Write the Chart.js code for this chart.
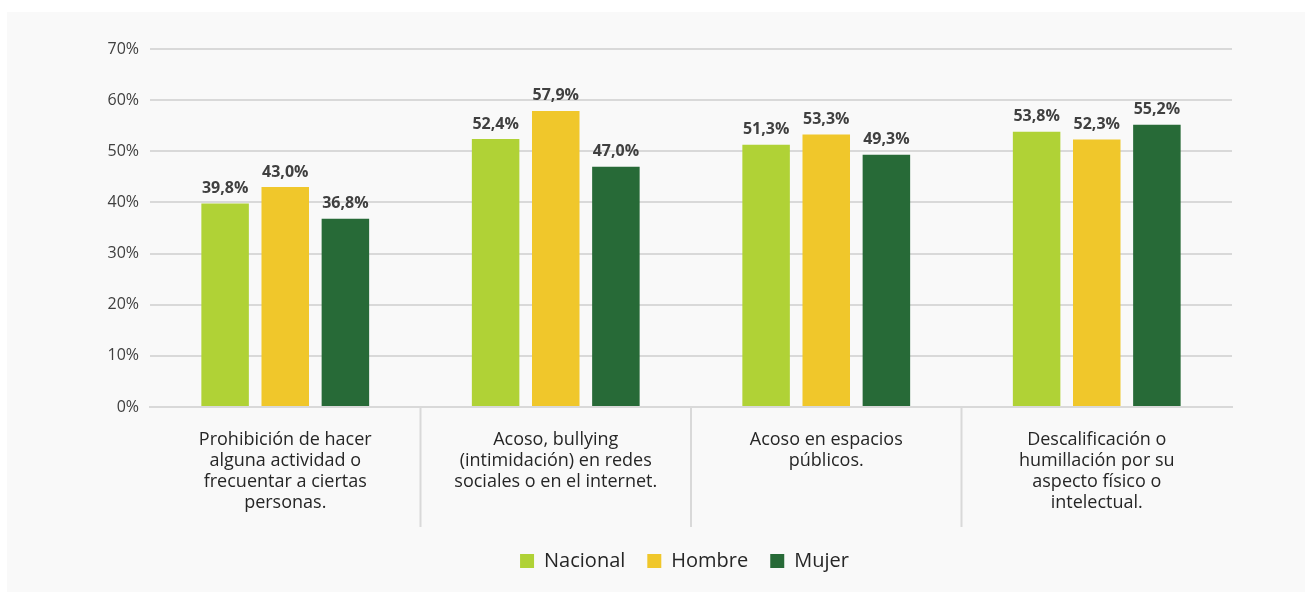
<!DOCTYPE html>
<html>
<head>
<meta charset="utf-8">
<script src="https://cdn.jsdelivr.net/npm/chart.js@4"></script>
<style>
  html, body { margin: 0; background: #fff; }
  #panel { position: absolute; left: 7px; top: 12px; width: 1298px; height: 580px; background: #f9f9f9; }
</style>
</head>
<body>
<div id="panel"><canvas id="chart"></canvas></div>
<script>
// data
const categories = [
    ['Prohibición de hacer', 'alguna actividad o', 'frecuentar a ciertas', 'personas.'],
    ['Acoso, bullying', '(intimidación) en redes', 'sociales o en el internet.'],
    ['Acoso en espacios', 'públicos.'],
    ['Descalificación o', 'humillación por su', 'aspecto físico o', 'intelectual.']
];
const seriesNames = ['Nacional', 'Hombre', 'Mujer'];
const nacional = [39.8, 52.4, 51.3, 53.8];
const hombre = [43.0, 57.9, 53.3, 52.3];
const mujer = [36.8, 47.0, 49.3, 55.2];
const yTicks = [0, 10, 20, 30, 40, 50, 60, 70];

const colors = ['#b0d236', '#f0c72b', '#276a37'];
const gridColor = '#d9d9d9';

Chart.defaults.font.family = '"Open Sans", sans-serif';

// values above each bar
const valueLabels = {
    id: 'valueLabels',
    afterDatasetsDraw(chart) {
        const ctx = chart.ctx;
        ctx.save();
        ctx.font = 'bold 16px "Open Sans", sans-serif';
        ctx.fillStyle = '#404040';
        ctx.textAlign = 'center';
        ctx.textBaseline = 'bottom';
        chart.data.datasets.forEach((ds, i) => {
            chart.getDatasetMeta(i).data.forEach((bar, j) => {
                ctx.fillText(ds.data[j].toFixed(1).replace('.', ',') + '%', bar.x, bar.y - 7);
            });
        });
        ctx.restore();
    }
};

// vertical separators between categories, below the axis
const separators = {
    id: 'separators',
    afterDraw(chart) {
        const x = chart.scales.x;
        const ctx = chart.ctx;
        ctx.save();
        ctx.strokeStyle = gridColor;
        ctx.lineWidth = 2;
        for (let i = 1; i < categories.length; i++) {
            const px = (x.getPixelForTick(i - 1) + x.getPixelForTick(i)) / 2;
            ctx.beginPath();
            ctx.moveTo(px, chart.chartArea.bottom);
            ctx.lineTo(px, chart.chartArea.bottom + 120);
            ctx.stroke();
        }
        ctx.restore();
    }
};

// legend in the original sits a bit right of centre
const legendShift = {
    id: 'legendShift',
    afterLayout(chart) {
        chart.legend.left += 65;
        chart.legend.right += 65;
    }
};

const datasets = [nacional, hombre, mujer].map((d, i) => ({
    label: seriesNames[i],
    data: d,
    backgroundColor: colors[i],
    categoryPercentage: 0.667,
    barPercentage: 0.79
}));

new Chart(document.getElementById('chart'), {
    type: 'bar',
    data: { labels: categories, datasets: datasets },
    options: {
        responsive: true,
        maintainAspectRatio: false,
        animation: false,
        layout: { padding: { left: 0, right: 73, top: 37, bottom: 11 } },
        plugins: {
            tooltip: { enabled: false },
            legend: {
                position: 'bottom',
                labels: {
                    boxWidth: 14,
                    boxHeight: 14,
                    padding: 22,
                    color: '#262626',
                    font: { size: 20 }
                }
            }
        },
        scales: {
            x: {
                grid: { display: false },
                border: { display: true, color: gridColor, width: 2 },
                ticks: {
                    color: '#262626',
                    padding: 14,
                    maxRotation: 0,
                    autoSkip: false,
                    font: { size: 18, lineHeight: 1.17 }
                },
                afterFit: s => { s.height = 122; }
            },
            y: {
                min: 0,
                max: 70,
                afterBuildTicks: s => { s.ticks = yTicks.map(v => ({ value: v })); },
                grid: { color: gridColor, lineWidth: 2, drawTicks: false },
                border: { display: false },
                ticks: {
                    color: '#404040',
                    padding: 11,
                    font: { size: 16 },
                    callback: v => v + '%'
                },
                afterFit: s => { s.width = 143; }
            }
        }
    },
    plugins: [valueLabels, separators, legendShift]
});
</script>
</body>
</html>
